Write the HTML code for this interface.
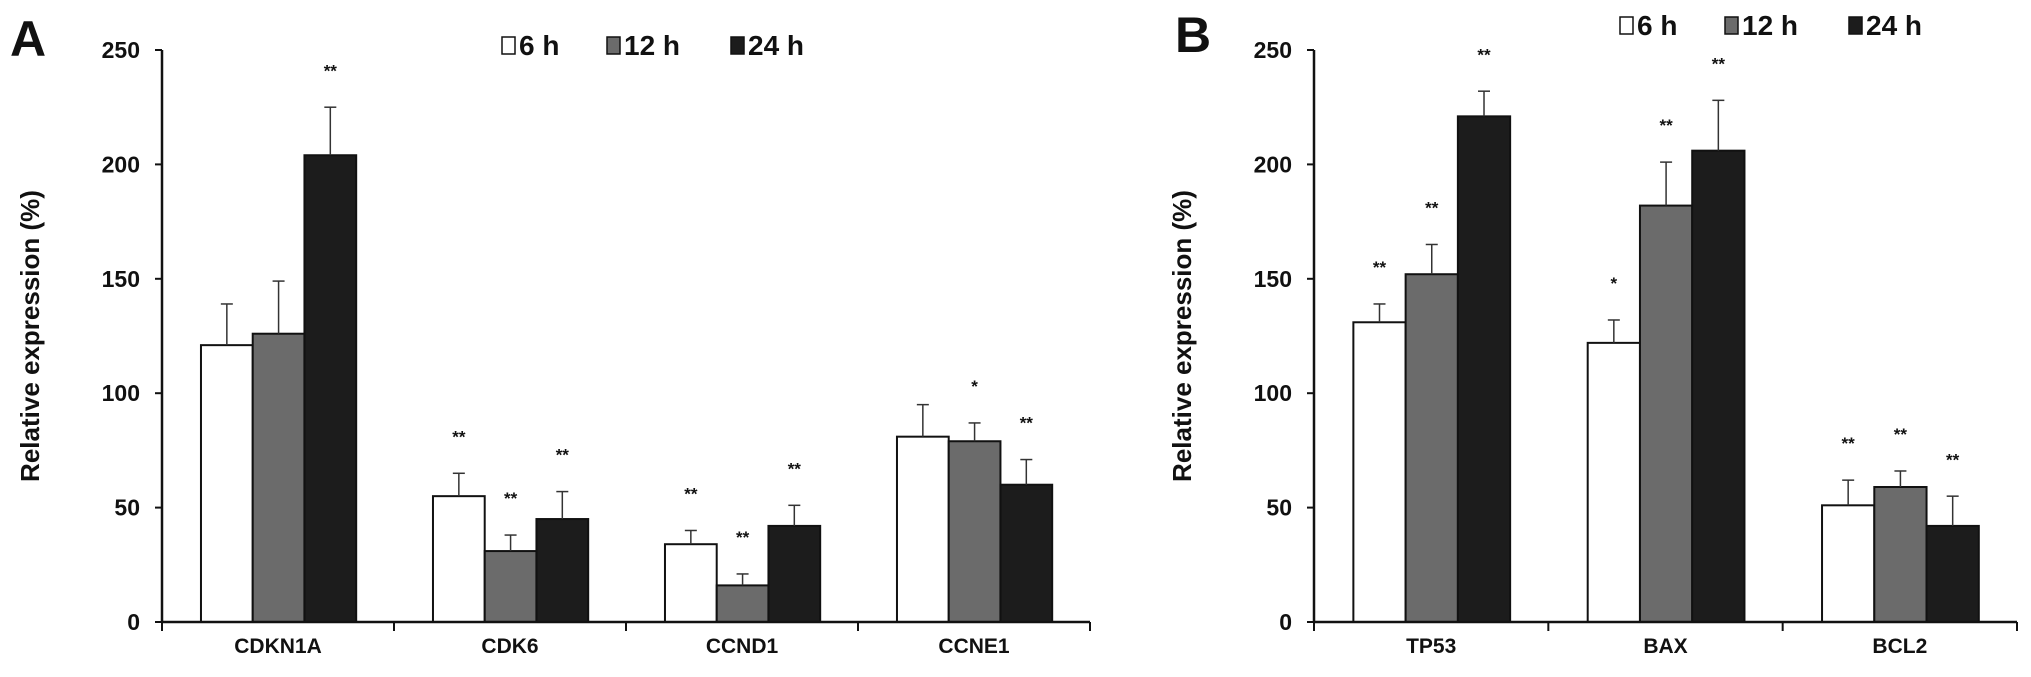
<!DOCTYPE html>
<html><head><meta charset="utf-8"><style>
html,body{margin:0;padding:0;background:#fff;}
svg{display:block;}
text{font-family:"Liberation Sans Narrow","Liberation Sans",sans-serif;font-weight:bold;fill:#111;}
.cat{font-family:"Liberation Sans",sans-serif;font-size:21px;}
.tick{font-size:23px;}
.ttl{font-family:"Liberation Sans",sans-serif;font-size:26px;}
.leg{font-size:28px;}
.star{font-family:"Liberation Sans",sans-serif;font-size:17px;}
</style></head><body>
<svg id="chart" width="2031" height="677" viewBox="0 0 2031 677"></svg>
<script>
const seriesNames=["6 h","12 h","24 h"];
const seriesColors=["#ffffff","#6b6b6b","#1c1c1c"];
const yTicks=[0,50,100,150,200,250];
const catsA=["CDKN1A","CDK6","CCND1","CCNE1"];
const valsA6=[121,55,34,81];
const valsA12=[126,31,16,79];
const valsA24=[204,45,42,60];
const errA6=[18,10,6,14];
const errA12=[23,7,5,8];
const errA24=[21,12,9,11];
const sigA6=["","**","**",""];
const sigA12=["","**","**","*"];
const sigA24=["**","**","**","**"];
const catsB=["TP53","BAX","BCL2"];
const valsB6=[131,122,51];
const valsB12=[152,182,59];
const valsB24=[221,206,42];
const errB6=[8,10,11];
const errB12=[13,19,7];
const errB24=[11,22,13];
const sigB6=["**","*","**"];
const sigB12=["**","**","**"];
const sigB24=["**","**","**"];

const NS="http://www.w3.org/2000/svg";
const svg=document.getElementById('chart');
function mk(tag,attrs,parent,txt){const e=document.createElementNS(NS,tag);for(const k in attrs)e.setAttribute(k,attrs[k]);if(txt!==undefined)e.textContent=txt;(parent||svg).appendChild(e);return e;}

function panel(id,letter,letterX,letterY,x0,x1,y0,y1,cats,vals,errs,sigs,legX,legY){
  const g=mk('g',{});
  
  
  const yMax=250;
  const ys=v=>y0-(v/yMax)*(y0-y1);
  const step=(x1-x0)/cats.length;
  const off=step*0.168, bw=step*0.223;
  const L=mk('text',{x:letterX,y:letterY,'font-size':50,style:'font-family:"Liberation Sans",sans-serif'},g,letter);
  
  
  const ya=mk('line',{x1:x0,y1:y0,x2:x0,y2:y1,stroke:'#111','stroke-width':2.5},g);
  
  
  yTicks.forEach(t=>{
    mk('line',{x1:x0-7,y1:ys(t),x2:x0,y2:ys(t),stroke:'#111','stroke-width':2},g);
    const tl=mk('text',{x:x0-22,y:ys(t)+8,'text-anchor':'end',class:'tick'},g,String(t));
    
    
  });
  const yt=mk('text',{x:0,y:0,class:'ttl','text-anchor':'middle',transform:`translate(${x0-123},${(y0+y1)/2}) rotate(-90)`},g,'Relative expression (%)');
  
  
  cats.forEach((c,i)=>{
    const gx=x0+i*step;
    for(let s=0;s<3;s++){
      const v=vals[s][i], e=errs[s][i];
      const bx=gx+off+s*bw, cx=bx+bw/2;
      const r=mk('rect',{x:bx,y:ys(v),width:bw,height:y0-ys(v),fill:seriesColors[s],stroke:'#111','stroke-width':2},g);
      
      
      mk('line',{x1:cx,y1:ys(v),x2:cx,y2:ys(v+e),stroke:'#333','stroke-width':1.5},g);
      mk('line',{x1:cx-6,y1:ys(v+e),x2:cx+6,y2:ys(v+e),stroke:'#333','stroke-width':1.5},g);
      if(sigs[s][i]){
        const st=mk('text',{x:cx,y:ys(v+e+17)+8,'text-anchor':'middle',class:'star'},g,sigs[s][i]);
        
        
      }
    }
    mk('line',{x1:gx+step,y1:y0,x2:gx+step,y2:y0+9,stroke:'#111','stroke-width':2},g);
    const cl=mk('text',{x:gx+step/2,y:y0+31,'text-anchor':'middle',class:'cat'},g,c);
    
    
  });
  mk('line',{x1:x0,y1:y0+9,x2:x0,y2:y0,stroke:'#111','stroke-width':2},g);
  const xa=mk('line',{x1:x0,y1:y0,x2:x1,y2:y0,stroke:'#111','stroke-width':2.5},g);
  
  
  const lg=mk('g',{},g);
  
  
  const lx=[0,105,229];
  seriesNames.forEach((n,s)=>{
    const eg=mk('g',{},lg);
    
    
    mk('rect',{x:legX+lx[s],y:legY,width:13,height:17,fill:seriesColors[s],stroke:'#111','stroke-width':1.5},eg);
    mk('text',{x:legX+lx[s]+17,y:legY+18,class:'leg'},eg,n);
  });
}
panel('a','A',10,56,162,1090,622,50,catsA,[valsA6,valsA12,valsA24],[errA6,errA12,errA24],[sigA6,sigA12,sigA24],502,37);
panel('b','B',1175,52,1314,2017,622,50,catsB,[valsB6,valsB12,valsB24],[errB6,errB12,errB24],[sigB6,sigB12,sigB24],1620,17);
</script>
</body></html>
